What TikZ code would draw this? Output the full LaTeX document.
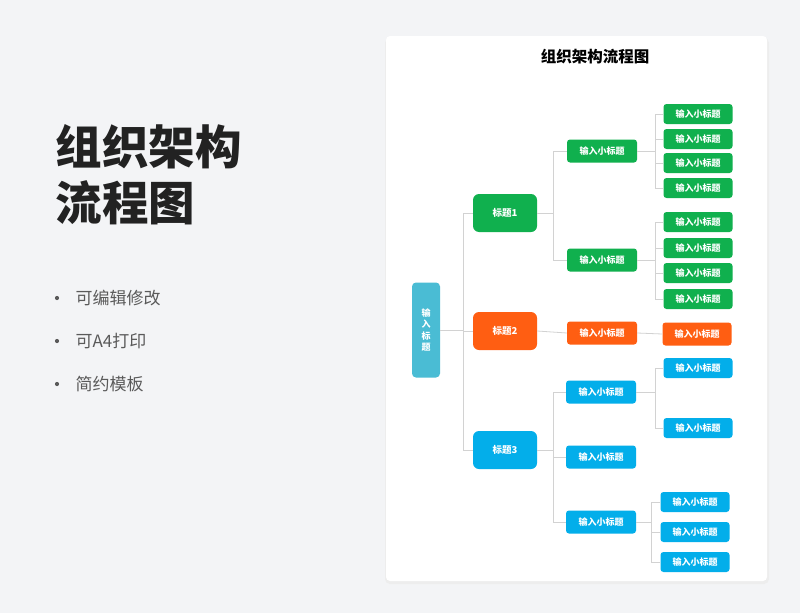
\documentclass[tikz,border=0pt]{standalone}
\usepackage{fontspec}
\setmainfont{Noto Sans CJK SC}
\usetikzlibrary{positioning}
\definecolor{pagebg}{HTML}{F3F4F6}
\definecolor{cgreen}{HTML}{10B04E}
\definecolor{corange}{HTML}{FF5E12}
\definecolor{cblue}{HTML}{03AEEA}
\definecolor{cteal}{HTML}{4ABCD4}
\definecolor{linkgray}{HTML}{D2D2D2}
\definecolor{inkdark}{HTML}{222222}
\definecolor{inkgray}{HTML}{5A5A5A}
\tikzset{
  root/.style={fill=cteal, rounded corners=4pt, minimum width=28pt, minimum height=95pt,
    inner sep=0pt, text=white, align=center, font=\bfseries\fontsize{9}{11.5}\selectfont},
  head/.style={rounded corners=6pt, minimum width=64pt, minimum height=38pt, inner sep=0pt,
    text=white, font=\bfseries\fontsize{9.5}{11}\selectfont},
  sub/.style={rounded corners=3pt, minimum width=70pt, minimum height=23pt, inner sep=0pt,
    text=white, font=\bfseries\fontsize{9}{10}\selectfont},
  leaf/.style={rounded corners=3pt, minimum width=69pt, minimum height=20pt, inner sep=0pt,
    text=white, font=\bfseries\fontsize{9}{10}\selectfont},
  link/.style={draw=linkgray, line width=0.8pt},
  bullet/.style={anchor=west, text=inkgray, font=\fontsize{17}{20}\selectfont}
}
\begin{document}
\begin{tikzpicture}[x=1pt,y=-1pt]
% page and card
\fill[pagebg] (0,0) rectangle (800,613);
\fill[black!7, rounded corners=5pt] (385,38) rectangle (769,584);
\fill[white, rounded corners=4pt] (386,36) rectangle (767,581);
% left side
\node[anchor=west, text=inkdark, font=\bfseries\fontsize{46.5}{56}\selectfont] (big1) at (52,147) {组织架构};
\node[anchor=west, text=inkdark, font=\bfseries\fontsize{46.5}{56}\selectfont] (big2) at (52,203) {流程图};
\node[bullet] (b1) at (72,298) {可编辑修改};
\node[bullet] (b2) at (72,341) {可A4打印};
\node[bullet] (b3) at (72,384) {简约模板};
\foreach \y in {298,341,384} \fill[inkgray] (57,\y) circle (2.1);
% card title
\node[text=black, font=\bfseries\fontsize{15.5}{18}\selectfont] (title) at (595,57) {组织架构流程图};
% tree
\node[root] (root) at (426,330) {输\\入\\标\\题};
\node[head, fill=cgreen] (h1) at (505,213) {标题1};
\node[head, fill=corange] (h2) at (505,331) {标题2};
\node[head, fill=cblue] (h3) at (505,450) {标题3};
\node[sub, fill=cgreen] (s1) at (602,151) {输入小标题};
\node[sub, fill=cgreen] (s2) at (602,260) {输入小标题};
\node[sub, fill=corange] (s3) at (602,333) {输入小标题};
\node[sub, fill=cblue] (s4) at (601,392) {输入小标题};
\node[sub, fill=cblue] (s5) at (601,457) {输入小标题};
\node[sub, fill=cblue] (s6) at (601,522) {输入小标题};
\foreach \y [count=\i] in {114,139,163,188}
  \node[leaf, fill=cgreen] (a\i) at (698,\y) {输入小标题};
\foreach \y [count=\i] in {222,248,273,299}
  \node[leaf, fill=cgreen] (b\i) at (698,\y) {输入小标题};
\node[leaf, fill=corange, minimum height=23pt] (c1) at (697,334) {输入小标题};
\foreach \y [count=\i] in {368,428}
  \node[leaf, fill=cblue] (d\i) at (698,\y) {输入小标题};
\foreach \y [count=\i] in {502,532,562}
  \node[leaf, fill=cblue] (e\i) at (695,\y) {输入小标题};
% links
\foreach \n in {h1,h2,h3} \draw[link] (root.east) -- ++(23,0) |- (\n.west);
\foreach \n in {s1,s2} \draw[link] (h1.east) -- ++(16,0) |- (\n.west);
\draw[link] (h2.east) -- (s3.west);
\foreach \n in {s4,s5,s6} \draw[link] (h3.east) -- ++(16,0) |- (\n.west);
\foreach \i in {1,...,4} \draw[link] (s1.east) -- ++(18,0) |- (a\i.west);
\foreach \i in {1,...,4} \draw[link] (s2.east) -- ++(18,0) |- (b\i.west);
\draw[link] (s3.east) -- (c1.west);
\foreach \i in {1,2} \draw[link] (s4.east) -- ++(19,0) |- (d\i.west);
\foreach \i in {1,2,3} \draw[link] (s6.east) -- ++(15,0) |- (e\i.west);
\end{tikzpicture}
\end{document}
